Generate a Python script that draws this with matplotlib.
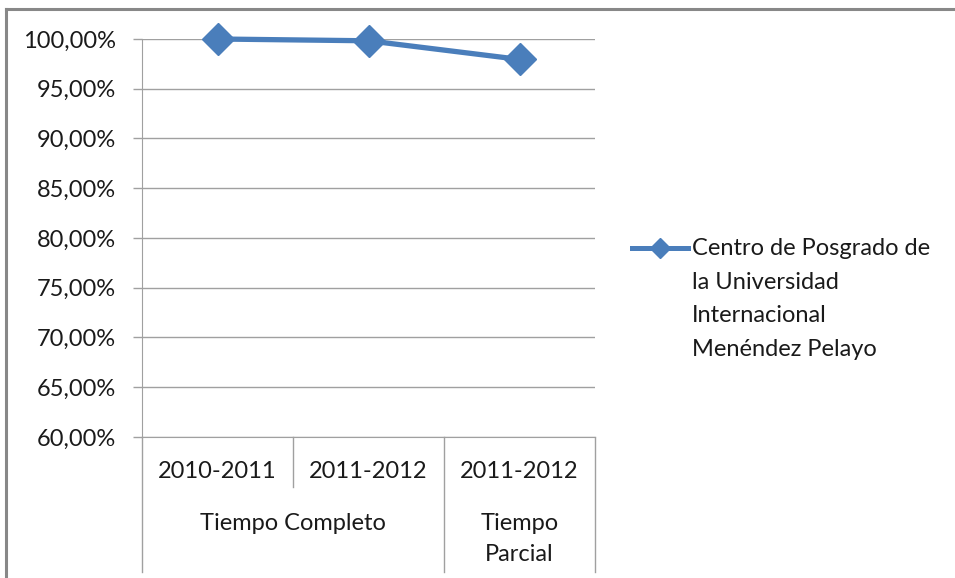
import matplotlib.pyplot as plt
import numpy as np
from matplotlib.lines import Line2D

plt.rcParams['font.family'] = ['Lato', 'DejaVu Sans']

# data
periodos = ['2010-2011', '2011-2012', '2011-2012']
grupos = ['Tiempo Completo', 'Tiempo\nParcial']
grupo_tam = [2, 1]
valores = [100.0, 99.82, 97.95]
serie = 'Centro de Posgrado de\nla Universidad\nInternacional\nMenéndez Pelayo'
yticks = np.arange(60, 101, 5)

W, H = 955, 578
azul = '#4a7ebb'
gris = '#a0a0a0'
texto = '#1a1a1a'
fs = 17

fig = plt.figure(figsize=(W / 100, H / 100), dpi=100)

# outer chart frame (only top and left visible in the crop)
fig.add_artist(Line2D([6 / W, 6 / W], [0, 1 - 9 / H], transform=fig.transFigure,
                      color='#888888', lw=2.2))
fig.add_artist(Line2D([6 / W, 1], [1 - 9 / H, 1 - 9 / H], transform=fig.transFigure,
                      color='#888888', lw=2.2))

# plot area in pixels
x0, x1, y0, y1 = 142, 595, 39, 437
ax = fig.add_axes([x0 / W, 1 - y1 / H, (x1 - x0) / W, (y1 - y0) / H])

x = np.arange(len(valores))
ax.plot(x, valores, color=azul, lw=3.8, marker='D', markersize=16,
        markeredgecolor=azul, clip_on=False, zorder=5)

ax.set_xlim(-0.5, len(valores) - 0.5)
ax.set_ylim(60, 100)
ax.set_yticks(yticks)
ax.set_yticklabels([f'{v:.2f}%'.replace('.', ',') for v in yticks],
                   fontsize=fs, color=texto)
ax.tick_params(axis='y', length=6.5, width=1, color=gris, pad=12.5)
ax.set_xticks([])
ax.grid(axis='y', color=gris, lw=1)
ax.set_axisbelow(True)
for s in ['top', 'right']:
    ax.spines[s].set_visible(False)
ax.spines['bottom'].set_color(gris)
ax.spines['left'].set_color(gris)

# multi-level category axis
ph = y1 - y0
yb = -(572 - y1) / ph
y_lvl1 = -(487 - y1) / ph
ax.plot([0, 0], [0, yb], transform=ax.transAxes, color=gris, lw=1, clip_on=False)
n = len(periodos)
for i, p in enumerate(periodos):
    ax.text((i + 0.5) / n, -(472 - y1) / ph, p, transform=ax.transAxes,
            ha='center', va='center', fontsize=fs, color=texto)
pos = 0
for g, t in zip(grupos, grupo_tam):
    start = pos
    pos += t
    for k in range(start + 1, pos):
        ax.plot([k / n, k / n], [0, y_lvl1], transform=ax.transAxes,
                color=gris, lw=1, clip_on=False)
    ax.plot([pos / n, pos / n], [0, yb], transform=ax.transAxes,
            color=gris, lw=1, clip_on=False)
    yc = -(524 - y1) / ph if '\n' not in g else -(539 - y1) / ph
    ax.text((start + pos) / 2 / n, yc, g, transform=ax.transAxes,
            ha='center', va='center', fontsize=fs, color=texto,
            linespacing=1.6)

# legend
ly = 1 - 248 / H
fig.add_artist(Line2D([632 / W, 688 / W], [ly, ly], transform=fig.transFigure,
                      color=azul, lw=3.6))
fig.add_artist(Line2D([660 / W], [ly], transform=fig.transFigure, color=azul,
                      marker='D', markersize=10, lw=0))
fig.text(692 / W, 1 - 238 / H, serie, ha='left', va='top', fontsize=fs,
         color=texto, linespacing=1.75)

fig.savefig('out.png', dpi=100)
